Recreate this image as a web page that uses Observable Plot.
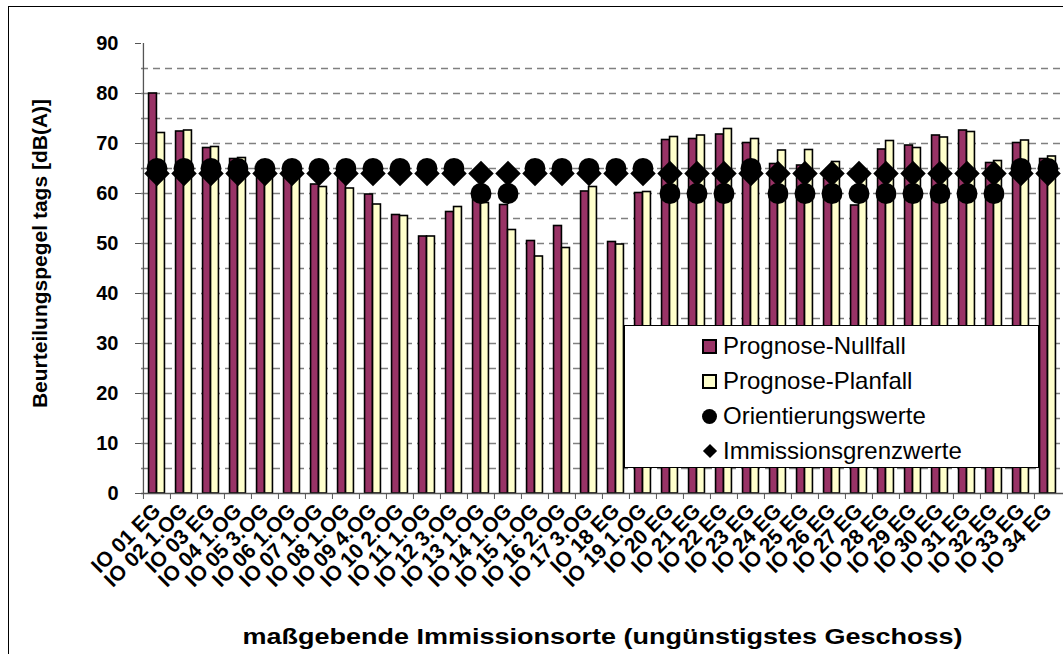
<!DOCTYPE html>
<html><head><meta charset="utf-8">
<script src="https://cdn.jsdelivr.net/npm/d3@7"></script>
<script src="https://cdn.jsdelivr.net/npm/@observablehq/plot@0.6"></script>
<style>
html,body{margin:0;padding:0;background:#fff;overflow:hidden;}
#wrap{position:relative;width:1063px;height:654px;overflow:hidden;font-family:"Liberation Sans",Arial,sans-serif;}
#wrap svg{position:absolute;left:0;top:0;}
#frame{position:absolute;left:8px;top:6px;width:1200px;height:800px;border:1px solid #000;pointer-events:none;}
#legend{position:absolute;left:624px;top:325px;width:413px;height:141px;border:1px solid #000;background:#fff;}
.row{position:absolute;left:77px;height:35px;display:flex;align-items:center;font-size:24px;color:#000;white-space:nowrap;}
.sw{box-sizing:border-box;width:15px;height:15px;margin-right:6px;flex:none;}
.sq{border:2px solid #000;}
.ci{border-radius:50%;background:#000;}
.di{width:15px;height:15px;position:relative;}
.di::after{content:"";position:absolute;left:2.5px;top:2.5px;width:10px;height:10px;background:#000;transform:rotate(45deg);}
</style>
</head><body>
<div id="wrap"><div id="frame"></div></div>
<script>
const categories = ["IO 01 EG","IO 02 1.OG","IO 03 EG","IO 04 1.OG","IO 05 3.OG","IO 06 1.OG","IO 07 1.OG","IO 08 1.OG","IO 09 4.OG","IO 10 2.OG","IO 11 1.OG","IO 12 3.OG","IO 13 1.OG","IO 14 1.OG","IO 15 1.OG","IO 16 2.OG","IO 17 3.OG","IO 18 EG","IO 19 1.OG","IO 20 EG","IO 21 EG","IO 22 EG","IO 23 EG","IO 24 EG","IO 25 EG","IO 26 EG","IO 27 EG","IO 28 EG","IO 29 EG","IO 30 EG","IO 31 EG","IO 32 EG","IO 33 EG","IO 34 EG"];
const nullfall = [80, 72.4, 69.1, 66.9, 65.5, 65, 61.8, 64, 59.8, 55.7, 51.4, 56.3, 59, 57.7, 50.5, 53.5, 60.4, 50.3, 60.1, 70.7, 70.9, 71.8, 70.1, 65.9, 65.6, 63, 57.6, 68.8, 69.6, 71.6, 72.6, 66.1, 70.1, 66.9];
const planfall = [72.1, 72.6, 69.3, 67.1, 65.5, 65, 61.3, 61, 57.8, 55.5, 51.4, 57.3, 58.1, 52.7, 47.4, 49.1, 61.3, 49.8, 60.3, 71.3, 71.6, 72.9, 70.9, 68.6, 68.7, 66.3, 64, 70.5, 69.1, 71.2, 72.3, 66.5, 70.6, 67.4];
const orientierungswerte = [65, 65, 65, 65, 65, 65, 65, 65, 65, 65, 65, 65, 60, 60, 65, 65, 65, 65, 65, 60, 60, 60, 65, 60, 60, 60, 60, 60, 60, 60, 60, 60, 65, 65];
const grenzwerte = [64, 64, 64, 64, 64, 64, 64, 64, 64, 64, 64, 64, 64, 64, 64, 64, 64, 64, 64, 64, 64, 64, 64, 64, 64, 64, 64, 64, 64, 64, 64, 64, 64, 64];
const yTicks = [0, 10, 20, 30, 40, 50, 60, 70, 80, 90];
const gridValues = [5, 10, 15, 20, 25, 30, 35, 40, 45, 50, 55, 60, 65, 70, 75, 80, 85];
const seriesNames = ["Prognose-Nullfall", "Prognose-Planfall", "Orientierungswerte", "Immissionsgrenzwerte"];
const seriesColors = ["#993366", "#FFFFCC"];
const yTitle = "Beurteilungspegel tags [dB(A)]";
const xTitle = "maßgebende Immissionsorte (ungünstigstes Geschoss)";

const data = categories.map((c, i) => ({c, n: nullfall[i], p: planfall[i], o: orientierungswerte[i], g: grenzwerte[i]}));

const W = 1063, H = 654, mL = 141, mR = 0, mT = 43, mB = 161;
const bw = (W - mL - mR) / categories.length;
const half = 8;
const font = "'Liberation Sans', Arial, sans-serif";

const chart = Plot.plot({
  width: W, height: H,
  marginLeft: mL, marginRight: mR, marginTop: mT, marginBottom: mB,
  style: {fontFamily: font, fontWeight: "bold", background: "transparent", color: "#000"},
  x: {type: "band", domain: categories, padding: 0, axis: null},
  y: {domain: [0, 90], axis: null},
  marks: [
    Plot.ruleY(gridValues, {stroke: "#808080", strokeWidth: 1.3, strokeDasharray: "7,5"}),
    Plot.barY(data, {x: "c", y: "n", fill: seriesColors[0], stroke: "#000", strokeWidth: 1.6, insetLeft: bw/2 - half, insetRight: bw/2}),
    Plot.barY(data, {x: "c", y: "p", fill: seriesColors[1], stroke: "#000", strokeWidth: 1.6, insetLeft: bw/2, insetRight: bw/2 - half}),
    Plot.dot(data, {x: "c", y: "g", symbol: "diamond2", r: 11.5, fill: "#000", stroke: "none"}),
    Plot.dot(data, {x: "c", y: "o", symbol: "circle", r: 10.5, fill: "#000", stroke: "none"}),
    Plot.ruleY([0], {stroke: "#555", strokeWidth: 1.3}),
    Plot.ruleX([categories[0]], {x: d => d, dx: -bw/2, y1: 0, y2: 90, stroke: "#555", strokeWidth: 1.3}),
    Plot.axisY({ticks: yTicks, tickSize: 6, tickPadding: 17, fontSize: 20, fontWeight: "bold", label: null, stroke: "#555"}),
    Plot.axisX({tickSize: 6, tickFormat: () => "", dx: -bw/2, label: null, stroke: "#555"}),
    Plot.axisX({tickSize: 0, tickRotate: -45, tickPadding: 14, fontSize: 21, fontWeight: "bold", label: null}),
    Plot.text([yTitle], {text: d => d, frameAnchor: "left", dx: -101, dy: -15, rotate: -90, fontSize: 21, fontWeight: "bold", textAnchor: "middle", lineAnchor: "middle"}),
    Plot.text([xTitle], {text: d => d, frameAnchor: "bottom", dy: 143, fontSize: 22, fontWeight: "bold", textAnchor: "middle", lineAnchor: "middle", className: "xtitle"})
  ]
});
// stretch the x title horizontally like the reference
chart.querySelectorAll("g.xtitle text, .xtitle text").forEach(t => {
  t.setAttribute("textLength", 720);
  t.setAttribute("lengthAdjust", "spacingAndGlyphs");
});
const wrap = document.getElementById("wrap");
wrap.insertBefore(chart, wrap.firstChild);

const legend = document.createElement("div");
legend.id = "legend";
const swClass = ["sw sq", "sw sq", "sw ci", "sw di"];
seriesNames.forEach((name, i) => {
  const row = document.createElement("div");
  row.className = "row";
  row.style.top = (2.5 + i * 35) + "px";
  const sw = document.createElement("span");
  sw.className = swClass[i];
  if (i < 2) sw.style.background = seriesColors[i];
  row.appendChild(sw);
  const t = document.createElement("span");
  t.textContent = name;
  row.appendChild(t);
  legend.appendChild(row);
});
wrap.appendChild(legend);
</script>
</body></html>
